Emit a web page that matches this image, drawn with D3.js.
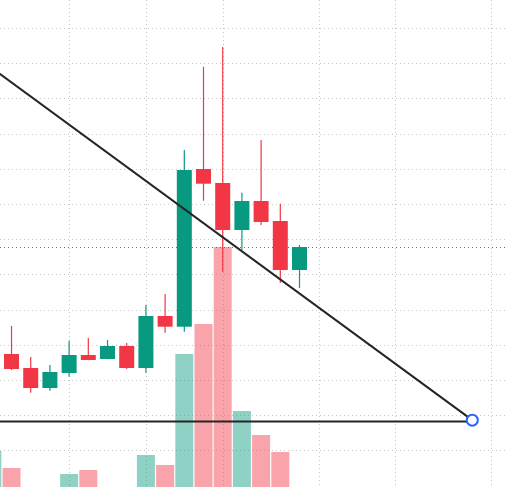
<!DOCTYPE html>
<html>
<head>
<meta charset="utf-8">
<script src="https://cdn.jsdelivr.net/npm/d3@7"></script>
<style>
  body { margin: 0; background: #fff; }
  svg { display: block; }
</style>
</head>
<body>
<div id="chart"></div>
<script>
// candles, by bar index (-1 is just off the left edge)
var idx    = [-1, 0, 1, 2, 3, 4, 5, 6, 7, 8, 9, 10, 11, 12, 13, 14, 15];
var open   = [24.0, 27.39, 23.41, 17.73, 21.99, 27.10, 25.97, 29.66, 23.41, 38.18, 35.14, 79.94, 75.97, 62.61, 70.85, 65.17, 51.25];
var high   = [30.0, 35.34, 26.53, 24.26, 31.16, 31.93, 31.36, 30.51, 41.31, 44.43, 85.34, 109.0, 114.6, 73.21, 88.18, 70.09, 58.35];
var low    = [22.0, 22.84, 16.39, 16.96, 20.94, 25.60, 25.90, 23.13, 22.07, 33.44, 33.72, 70.94, 50.68, 56.93, 64.03, 47.56, 46.14];
var close  = [28.0, 23.13, 17.73, 22.27, 27.10, 25.68, 29.66, 23.41, 38.18, 35.14, 79.66, 75.77, 62.61, 70.85, 64.89, 51.25, 57.78];
var volume = [590, 420, 150, 120, 360, 400, 180, 200, 550, 450, 1560, 1860, 2630, 990, 750, 580, 160];

// time grid (bar indices) and price grid
var timeTicks  = [3, 7, 11, 16, 20, 25];
var priceTicks = d3.range(0, 130, 10);

// drawings: trend line, horizontal ray, anchor point
var trendIdx   = [-3, 24];
var trendPrice = [116.5, 8.6];
var hlineIdx   = [-3, 24];
var hlinePrice = [8.2, 8.2];

var W = 508, H = 487;
var up = "#089981", down = "#f23645";

var svg = d3.select("#chart").append("svg")
  .attr("width", W).attr("height", H);

var x = d3.scaleLinear().domain([-0.6, 25.86]).range([0, W]);
var y = d3.scaleLinear().domain([0, 120]).range([450.4, 28]);
var v = d3.scaleLinear().domain([0, 2630]).range([510, 247]);

var bars = idx.map(function (d, i) {
  return {i: d, o: open[i], h: high[i], l: low[i], c: close[i], vol: volume[i]};
});

// grid
svg.append("g").selectAll("line").data(priceTicks).join("line")
  .attr("x1", 0).attr("x2", W)
  .attr("y1", function (d) { return Math.round(y(d)) + 0.5; })
  .attr("y2", function (d) { return Math.round(y(d)) + 0.5; })
  .attr("stroke", "#c8c8c8").attr("stroke-dasharray", "1,3");
svg.append("g").selectAll("line").data(timeTicks).join("line")
  .attr("y1", 0).attr("y2", H)
  .attr("x1", function (d) { return Math.round(x(d)) + 0.5; })
  .attr("x2", function (d) { return Math.round(x(d)) + 0.5; })
  .attr("stroke", "#c8c8c8").attr("stroke-dasharray", "1,3");

// volume
svg.append("g").selectAll("rect").data(bars).join("rect")
  .attr("x", function (d) { return x(d.i) - 9; })
  .attr("width", 18)
  .attr("y", function (d) { return v(d.vol); })
  .attr("height", function (d) { return v(0) - v(d.vol); })
  .attr("fill", function (d) { return d.c >= d.o ? up : down; })
  .attr("fill-opacity", 0.45);

// last price line
var last = bars[bars.length - 1];
svg.append("line")
  .attr("x1", 0).attr("x2", W)
  .attr("y1", Math.round(y(last.c)) + 0.5).attr("y2", Math.round(y(last.c)) + 0.5)
  .attr("stroke", up).attr("stroke-dasharray", "1,3");

// candles
var candle = svg.append("g").selectAll("g").data(bars).join("g");
candle.append("line")
  .attr("x1", function (d) { return x(d.i); })
  .attr("x2", function (d) { return x(d.i); })
  .attr("y1", function (d) { return y(d.h); })
  .attr("y2", function (d) { return y(d.l); })
  .attr("stroke", function (d) { return d.c >= d.o ? up : down; })
  .attr("stroke-width", 1.2);
candle.append("rect")
  .attr("x", function (d) { return x(d.i) - 7.5; })
  .attr("width", 15)
  .attr("y", function (d) { return y(Math.max(d.o, d.c)); })
  .attr("height", function (d) { return Math.max(1, Math.abs(y(d.o) - y(d.c))); })
  .attr("fill", function (d) { return d.c >= d.o ? up : down; });

// drawings
var line = d3.line()
  .x(function (d) { return x(d[0]); })
  .y(function (d) { return y(d[1]); });
svg.append("path")
  .attr("d", line(d3.zip(trendIdx, trendPrice)))
  .attr("fill", "none").attr("stroke", "#252525").attr("stroke-width", 2);
svg.append("path")
  .attr("d", line(d3.zip(hlineIdx, hlinePrice)))
  .attr("fill", "none").attr("stroke", "#252525").attr("stroke-width", 2);
svg.append("circle")
  .attr("cx", x(trendIdx[1])).attr("cy", y(trendPrice[1]))
  .attr("r", 5.5)
  .attr("fill", "#fff").attr("stroke", "#2962ff").attr("stroke-width", 2);
</script>
</body>
</html>
